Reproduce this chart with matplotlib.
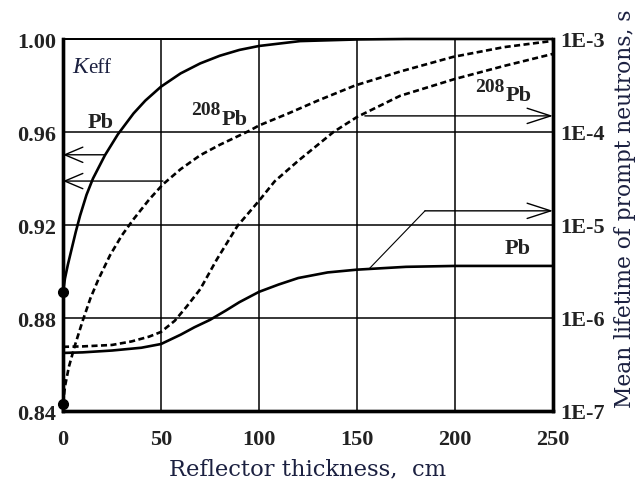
import numpy as np
import matplotlib
matplotlib.use("Agg")
import matplotlib.pyplot as plt
from matplotlib.patches import FancyArrowPatch

# ---------------- data ----------------
# Keff, natural Pb reflector (left axis)
x_keff_pb = [0, 1, 2.5, 4.5, 6.5, 8.7, 12, 15.3, 21.4, 28, 36, 42, 50, 60, 70, 80, 90, 100, 121, 150, 175, 200, 250]
keff_pb = [0.891, 0.897, 0.903, 0.910, 0.917, 0.924, 0.933, 0.940, 0.950, 0.959, 0.968, 0.9735, 0.9795,
           0.9852, 0.9895, 0.9928, 0.9953, 0.997, 0.9991, 0.9998, 1.0, 1.0, 1.0]

# Keff, 208Pb reflector (left axis)
x_keff_208 = [0, 1, 3, 6, 10, 14, 18, 24, 30, 36, 44, 51, 60, 70, 80, 95, 100, 115, 130, 149, 172, 199, 225, 250]
keff_208 = [0.843, 0.8505, 0.859, 0.868, 0.8787, 0.8885, 0.8965, 0.907, 0.9155, 0.9225, 0.931, 0.9375,
            0.944, 0.950, 0.9545, 0.9605, 0.9628, 0.968, 0.9735, 0.980, 0.986, 0.9923, 0.9965, 0.9992]

# Mean lifetime of prompt neutrons, s, 208Pb (right axis)
x_life_208 = [0, 10, 25, 35, 44, 50, 57, 63, 70, 78.5, 89, 100, 108, 120, 138, 150, 172, 200, 225, 250]
life_208 = [4.90e-7, 4.95e-7, 5.13e-7, 5.60e-7, 6.31e-7, 7.08e-7, 9.33e-7, 1.32e-6, 2.04e-6, 4.27e-6,
            9.77e-6, 1.82e-5, 2.95e-5, 4.90e-5, 1.0e-4, 1.45e-4, 2.45e-4, 3.72e-4, 5.13e-4, 6.92e-4]

# Mean lifetime of prompt neutrons, s, natural Pb (right axis)
x_life_pb = [0, 10, 25, 40, 50, 60, 67, 75, 83, 90, 100, 110, 120, 135, 150, 175, 200, 250]
life_pb = [4.21e-7, 4.27e-7, 4.47e-7, 4.79e-7, 5.25e-7, 6.61e-7, 7.94e-7, 9.55e-7, 1.20e-6, 1.48e-6,
           1.91e-6, 2.29e-6, 2.69e-6, 3.09e-6, 3.31e-6, 3.55e-6, 3.63e-6, 3.63e-6]

x_ticks = [0, 50, 100, 150, 200, 250]
keff_ticks = [0.84, 0.88, 0.92, 0.96, 1.00]
keff_tick_labels = ["0.84", "0.88", "0.92", "0.96", "1.00"]
life_ticks = [1e-7, 1e-6, 1e-5, 1e-4, 1e-3]
life_tick_labels = ["1E-7", "1E-6", "1E-5", "1E-4", "1E-3"]

x_label = "Reflector thickness,  cm"
y2_label = "Mean lifetime of prompt neutrons, s"

# ---------------- style ----------------
TXT = "#1b2040"
SERIF = ["Liberation Serif", "DejaVu Serif"]
LABFONT = ["DejaVu Serif"]
TICKC = "#222222"

fig = plt.figure(figsize=(6.41, 4.85), dpi=100)
ax = fig.add_axes([63 / 641, 1 - 412 / 485, 490 / 641, 372 / 485])
ax2 = ax.twinx()

ax.set_xlim(0, 250)
ax.set_ylim(0.84, 1.00)
ax2.set_yscale("log")
ax2.set_ylim(1e-7, 1e-3)

ax.set_xticks(x_ticks)
ax.set_xticklabels([str(v) for v in x_ticks], fontfamily=SERIF, fontweight="bold", fontsize=16, color=TICKC)
ax.set_yticks(keff_ticks)
ax.set_yticklabels(keff_tick_labels, fontfamily=SERIF, fontweight="bold", fontsize=16, color=TICKC)
ax2.set_yticks(life_ticks)
ax2.set_yticklabels(life_tick_labels, fontfamily=SERIF, fontweight="bold", fontsize=16, color=TICKC)
ax2.yaxis.set_minor_locator(matplotlib.ticker.NullLocator())
ax.tick_params(axis="both", length=0)
ax.tick_params(axis="y", pad=5)
ax.tick_params(axis="x", pad=13)
ax2.tick_params(axis="y", length=0, pad=5)

ax.grid(True, color="black", linewidth=1.1)
ax.set_axisbelow(True)

for a in (ax, ax2):
    a.spines["left"].set_linewidth(2.4)
    a.spines["bottom"].set_linewidth(2.4)
    a.spines["right"].set_linewidth(2.4)
    a.spines["top"].set_linewidth(1.3)

ax.set_xlabel(x_label, fontfamily=LABFONT, fontsize=16.3, color=TXT)
ax.xaxis.set_label_coords(0.5, -0.125)
ax2.set_ylabel(y2_label, fontfamily=LABFONT, fontsize=15.7, color=TXT)
ax2.yaxis.set_label_coords(1.125, 0.546)

# ---------------- curves ----------------
lw = 1.9
ax.plot(x_keff_pb, keff_pb, color="black", lw=lw, solid_capstyle="butt", clip_on=False, zorder=5)
ax.plot(x_keff_208, keff_208, color="black", lw=lw, dashes=(2.3, 1.3), clip_on=False, zorder=5)
ax2.plot(x_life_208, life_208, color="black", lw=lw, dashes=(2.3, 1.3), zorder=5)
ax2.plot(x_life_pb, life_pb, color="black", lw=lw, zorder=5)

ax.plot([0, 0], [keff_pb[0], keff_208[0]], linestyle="none", marker="o", markersize=7,
        color="black", clip_on=False, zorder=6)

# ---------------- arrows ----------------
def arrow(axis, p0, p1, hl, hw):
    a = FancyArrowPatch(p0, p1, arrowstyle=f"->,head_length={hl},head_width={hw}",
                        mutation_scale=10, lw=1.0, color="black", shrinkA=0, shrinkB=0,
                        clip_on=False, zorder=4)
    axis.add_patch(a)

arrow(ax, (21.5, 0.9502), (0, 0.9502), 1.3, 0.55)
arrow(ax, (51, 0.9389), (0, 0.9389), 1.3, 0.55)
arrow(ax2, (154, 1.49e-4), (250, 1.49e-4), 1.7, 0.55)
arrow(ax2, (184.7, 1.42e-5), (250, 1.42e-5), 1.7, 0.55)
ax2.plot([156.6, 184.7], [3.45e-6, 1.42e-5], color="black", lw=0.8, zorder=4)

# ---------------- text labels ----------------
ax.text(4.6, 0.9858, "K", fontfamily=SERIF, fontstyle="italic", fontsize=17, color=TXT, va="baseline")
ax.text(12.6, 0.9858, "eff", fontfamily=SERIF, fontsize=15, color=TXT, va="baseline")
ax.text(19, 0.9622, "Pb", fontfamily=SERIF, fontweight="bold", fontsize=16, color=TICKC,
        ha="center", va="baseline")
ax.text(81, 0.9634, "Pb", fontfamily=SERIF, fontweight="bold", fontsize=16, color=TICKC,
        ha="left", va="baseline")
ax.text(80.5, 0.9677, "208", fontfamily=SERIF, fontweight="bold", fontsize=14, color=TICKC,
        ha="right", va="baseline")
ax.text(226, 0.9738, "Pb", fontfamily=SERIF, fontweight="bold", fontsize=16, color=TICKC,
        ha="left", va="baseline")
ax.text(225.5, 0.9776, "208", fontfamily=SERIF, fontweight="bold", fontsize=14, color=TICKC,
        ha="right", va="baseline")
ax.text(225.5, 0.908, "Pb", fontfamily=SERIF, fontweight="bold", fontsize=16, color=TICKC,
        ha="left", va="baseline")

fig.savefig("out.png", dpi=100)
